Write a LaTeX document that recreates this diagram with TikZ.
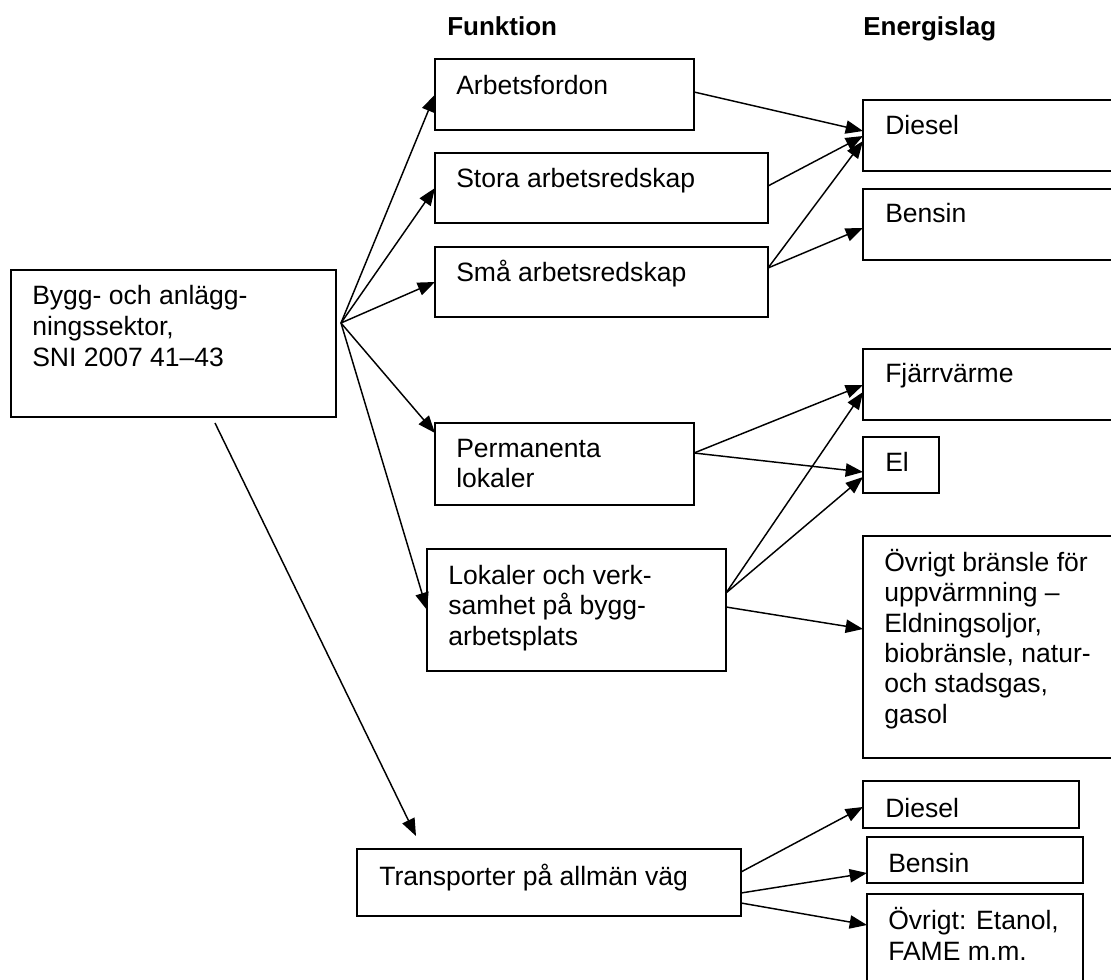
\documentclass[tikz,border=0pt]{standalone}
\usepackage{fontspec}
\setmainfont{Liberation Sans}
\usetikzlibrary{arrows.meta,calc}
\newcommand{\rbox}[5]{\node[box, minimum width={(#4-#2)*0.75pt}, minimum height={(#5-#3)*0.75pt}] (#1) at (#2,#3) {};}
\begin{document}
\begin{tikzpicture}[x=0.75pt,y=-0.75pt,
  box/.style={draw, line width=1.3pt, inner sep=0pt, outer sep=0pt, anchor=north west},
  lbl/.style={anchor=base west, inner sep=0pt, align=left, font=\fontsize{19.9}{22.7}\selectfont},
  hdr/.style={anchor=base west, inner sep=0pt, font=\fontsize{19.5}{22.7}\selectfont\bfseries},
  arr/.style={line width=1.1pt, -{Triangle[length=13pt,width=10pt]}}]
\useasboundingbox (0,0) rectangle (1111,980);
\fill[white] (0,0) rectangle (1111,980);
\clip (0,0) rectangle (1111,980);

% headers
\node[hdr] (hfunk) at (447,36) {Funktion};
\node[hdr] (henergi) at (863,36) {Energislag};

% boxes
\rbox{main}{11}{270}{336}{417}
\rbox{arb}{435}{59}{694}{130}
\rbox{stora}{435}{153}{768}{223}
\rbox{sma}{435}{247}{768}{317}
\rbox{perm}{435}{423}{694}{505}
\rbox{lok}{427}{549}{726}{671}
\rbox{trans}{357}{849}{741}{916}
\rbox{dieA}{863}{100}{1125}{171}
\rbox{benA}{863}{189}{1125}{260}
\rbox{fjv}{863}{349}{1125}{420}
\rbox{el}{863}{437}{939}{493}
\rbox{ovr}{863}{536}{1125}{758}
\rbox{dieB}{863}{781}{1079}{828}
\rbox{benB}{867}{837}{1083}{883}
\rbox{ovrB}{867}{894}{1083}{995}

% texts (multi-line nodes: base = last line's baseline)
\node[lbl, font=\fontsize{19.9}{23.25}\selectfont] (tmain) at (32,367) {Bygg- och anlägg-\\ningssektor,\\SNI 2007 41–43};
\node[lbl] (tarb) at (456,95) {Arbetsfordon};
\node[lbl] (tstora) at (456,188) {Stora arbetsredskap};
\node[lbl] (tsma) at (456,282) {Små arbetsredskap};
\node[lbl] (tperm) at (456,488) {Permanenta\\lokaler};
\node[lbl] (tlok) at (448,645) {Lokaler och verk-\\samhet på bygg-\\arbetsplats};
\node[lbl] (ttrans) at (379,885) {Transporter på allmän väg};
\node[lbl] (tdieA) at (885,135) {Diesel};
\node[lbl] (tbenA) at (885,223) {Bensin};
\node[lbl] (tfjv) at (885,383) {Fjärrvärme};
\node[lbl] (tel) at (885,472) {El};
\node[lbl] (tovr) at (884,723) {Övrigt bränsle för\\uppvärmning –\\Eldningsoljor,\\biobränsle, natur-\\och stadsgas,\\gasol};
\node[lbl] (tdieB) at (885,817) {Diesel};
\node[lbl] (tbenB) at (888,872) {Bensin};
\node[lbl] (tovrB) at (888,960) {Övrigt: Etanol,\\FAME m.m.};

% connectors from main box
\coordinate (src) at ($(main.north east)+(5,53)$);
\coordinate (src2) at ($(main.south west)+(204,6)$);
\draw[arr] (src) -- (arb.west);
\draw[arr] (src) -- (stora.west);
\draw[arr] (src) -- (sma.west);
\draw[arr] (src) -- ($(perm.north west)+(0,10)$);
\draw[arr] (src) -- (lok.west);
\draw[arr] (src2) -- ($(trans.north west)+(59,-13)$);

% connectors to energy types
\draw[arr] ($(arb.north east)+(0,33)$) -- ($(dieA.north west)+(0,31)$);
\draw[arr] ($(stora.north east)+(0,33)$) -- ($(dieA.north west)+(0,36)$);
\draw[arr] ($(sma.north east)+(0,21)$) -- ($(dieA.north west)+(0,41)$);
\draw[arr] ($(sma.north east)+(0,21)$) -- ($(benA.north west)+(0,39)$);
\draw[arr] ($(perm.north east)+(0,30)$) -- ($(fjv.north west)+(0,36)$);
\draw[arr] ($(perm.north east)+(0,30)$) -- ($(el.north west)+(0,35)$);
\draw[arr] ($(lok.north east)+(0,44)$) -- ($(fjv.north west)+(0,43)$);
\draw[arr] ($(lok.north east)+(0,44)$) -- ($(el.north west)+(0,40)$);
\draw[arr] ($(lok.north east)+(0,58)$) -- ($(ovr.north west)+(0,93)$);
\draw[arr] ($(trans.north east)+(0,23)$) -- ($(dieB.north west)+(0,26)$);
\draw[arr] ($(trans.north east)+(0,44)$) -- ($(benB.north west)+(0,36)$);
\draw[arr] ($(trans.north east)+(0,54)$) -- ($(ovrB.north west)+(0,31)$);
\end{tikzpicture}
\end{document}
